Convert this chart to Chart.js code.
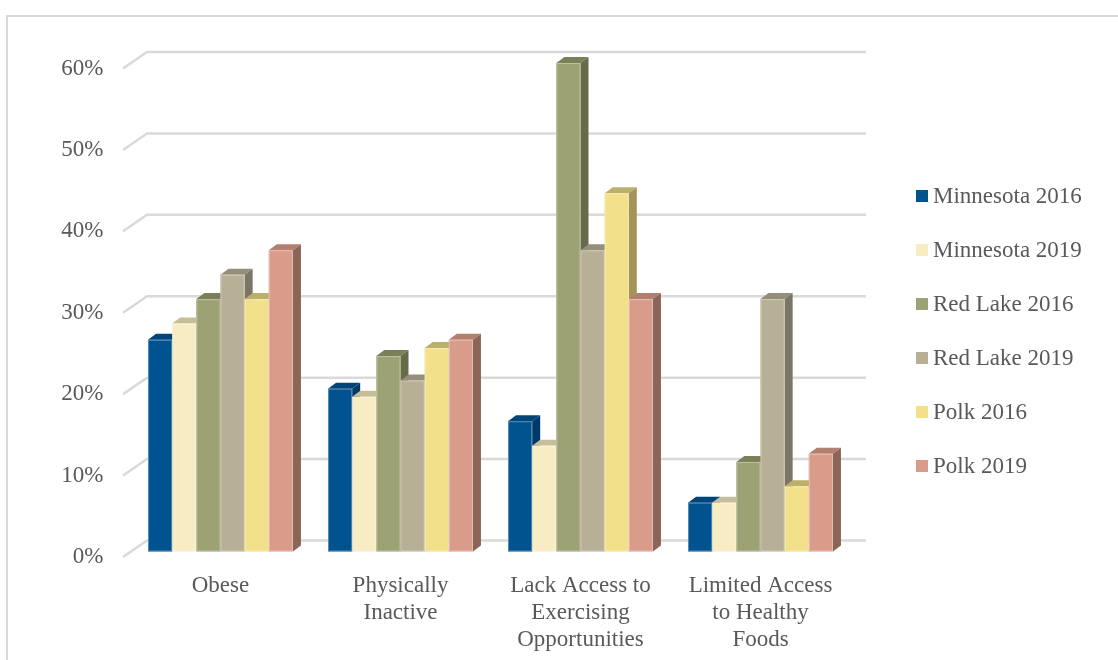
<!DOCTYPE html>
<html>
<head>
<meta charset="utf-8">
<script src="https://cdn.jsdelivr.net/npm/chart.js@4/dist/chart.umd.min.js"></script>
<style>
  body { margin: 0; background: #fff; }
  #wrap { position: relative; width: 1118px; height: 660px; overflow: hidden; }
  #frame { position: absolute; left: 6px; top: 15px; width: 1200px; height: 700px;
           border-top: 2px solid #d9d9d9; border-left: 2px solid #d9d9d9; }
  canvas { position: absolute; left: 0; top: 0; }
  #legend { position: absolute; left: 916px; top: 169px; }
  .item { height: 54px; display: flex; align-items: center;
          font: 23px 'Liberation Serif', 'Times New Roman', serif; color: #595959; }
  .box { width: 12px; height: 12px; margin-right: 5px; }
</style>
</head>
<body>
<div id="wrap">
  <div id="frame"></div>
  <canvas id="chart" width="1118" height="660"></canvas>
  <div id="legend"></div>
</div>
<script>
// Data
const categories = [
  'Obese',
  ['Physically', 'Inactive'],
  ['Lack Access to', 'Exercising', 'Opportunities'],
  ['Limited Access', 'to Healthy', 'Foods']
];
const seriesNames = ['Minnesota 2016', 'Minnesota 2019', 'Red Lake 2016', 'Red Lake 2019', 'Polk 2016', 'Polk 2019'];
const minnesota2016 = [26, 20, 16, 6];
const minnesota2019 = [28, 19, 13, 6];
const redLake2016 = [31, 24, 60, 11];
const redLake2019 = [34, 21, 37, 31];
const polk2016 = [31, 25, 44, 8];
const polk2019 = [37, 26, 31, 12];
const yTicks = [0, 10, 20, 30, 40, 50, 60];

// Colours: front, top and side faces
const frontColors = ['#00538f', '#f8ecc5', '#9ca274', '#b8af97', '#f2e08a', '#da9c8a'];
const topColors = ['#00457a', '#c6be9a', '#7c8059', '#948e7b', '#bbb06b', '#b37f6f'];
const sideColors = ['#003a66', '#a9a285', '#686b4a', '#7a7565', '#a3945a', '#8b6558'];

const font = { family: "'Liberation Serif', 'Times New Roman', serif", size: 23 };
const textColor = '#595959';
const dx = 8, dy = -6;

// 3D walls and bars
const bars3d = {
  id: 'bars3d',
  beforeDatasetsDraw(chart) {
    const { ctx, chartArea: a, scales: { y } } = chart;
    ctx.save();
    ctx.strokeStyle = '#d9d9d9';
    ctx.lineWidth = 2.5;
    y.ticks.forEach(t => {
      const py = y.getPixelForValue(t.value);
      ctx.beginPath();
      ctx.moveTo(a.left - 7.5, py + 5.5);
      ctx.lineTo(a.left + 16.5, py - 11);
      ctx.lineTo(a.right + 15.5, py - 11);
      ctx.stroke();
    });
    ctx.restore();
  },
  afterDatasetsDraw(chart) {
    const ctx = chart.ctx;
    ctx.save();
    chart.data.datasets.forEach((ds, i) => {
      chart.getDatasetMeta(i).data.forEach(bar => {
        const { x, y, base, width } = bar.getProps(['x', 'y', 'base', 'width'], true);
        const l = x - width / 2, r = x + width / 2;
        ctx.fillStyle = topColors[i];
        ctx.beginPath();
        ctx.moveTo(l, y); ctx.lineTo(l + dx, y + dy); ctx.lineTo(r + dx, y + dy); ctx.lineTo(r, y);
        ctx.closePath(); ctx.fill();
        ctx.fillStyle = sideColors[i];
        ctx.beginPath();
        ctx.moveTo(r, y); ctx.lineTo(r + dx, y + dy); ctx.lineTo(r + dx, base + dy); ctx.lineTo(r, base);
        ctx.closePath(); ctx.fill();
        ctx.fillStyle = frontColors[i];
        ctx.fillRect(l, y, width, base - y);
        ctx.strokeStyle = 'rgba(255,255,255,0.35)';
        ctx.lineWidth = 1;
        ctx.strokeRect(l + 0.5, y + 0.5, width - 1, base - y - 1);
      });
    });
    ctx.restore();
  }
};

const values = [minnesota2016, minnesota2019, redLake2016, redLake2019, polk2016, polk2019];

new Chart(document.getElementById('chart'), {
  type: 'bar',
  data: {
    labels: categories,
    datasets: seriesNames.map((name, i) => ({
      label: name,
      data: values[i],
      backgroundColor: frontColors[i],
      borderWidth: 0,
      categoryPercentage: 0.805,
      barPercentage: 1
    }))
  },
  options: {
    responsive: false,
    animation: false,
    layout: { padding: { left: 0, right: 267.5, top: 63, bottom: 0 } },
    plugins: { legend: { display: false }, tooltip: { enabled: false } },
    scales: {
      x: {
        grid: { display: false, drawTicks: false },
        border: { display: false },
        ticks: { font: { ...font, lineHeight: 1.17 }, color: textColor, padding: 21, maxRotation: 0, autoSkip: false },
        afterFit(scale) { scale.height = 108.5; }
      },
      y: {
        min: 0, max: 60,
        afterBuildTicks(scale) { scale.ticks = yTicks.map(v => ({ value: v })); },
        grid: { display: false, drawTicks: false },
        border: { display: false },
        ticks: { font, color: textColor, padding: 27, labelOffset: 5.5, callback: v => v + '%' },
        afterFit(scale) { scale.width = 130.5; }
      }
    }
  },
  plugins: [bars3d]
});

// Legend
const legend = document.getElementById('legend');
seriesNames.forEach((name, i) => {
  const item = document.createElement('div');
  item.className = 'item';
  item.innerHTML = `<span class="box" style="background:${frontColors[i]}"></span>${name}`;
  legend.appendChild(item);
});
</script>
</body>
</html>
